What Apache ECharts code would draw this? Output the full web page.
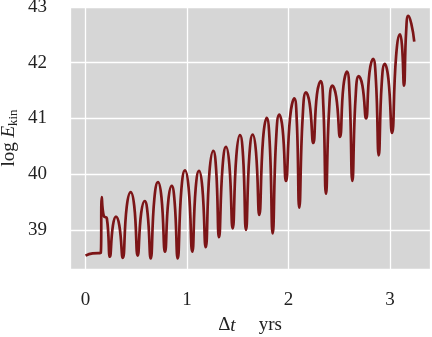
<!DOCTYPE html>
<html>
<head>
<meta charset="utf-8">
<script src="https://cdn.jsdelivr.net/npm/echarts@6/dist/echarts.min.js"></script>
<style>
  html, body { margin: 0; padding: 0; background: #fff; }
  #main { width: 432px; height: 337px; }
</style>
</head>
<body>
<div id="main"></div>
<script>
// Δt in yrs, log E_kin  (peaks, cusps and a few points on the arches)
var tYrs = [
  0.00, 0.07, 0.15, 0.16, 0.18, 0.21, 0.24,
  0.27, 0.30, 0.333, 0.367,
  0.406, 0.445, 0.48, 0.514,
  0.548, 0.583, 0.612, 0.642,
  0.678, 0.714, 0.748, 0.783,
  0.816, 0.849, 0.878, 0.908,
  0.944, 0.980, 1.016, 1.052,
  1.085, 1.118, 1.151, 1.184,
  1.221, 1.259, 1.287, 1.315,
  1.350, 1.384, 1.417, 1.450,
  1.486, 1.522, 1.552, 1.581,
  1.614, 1.647, 1.680, 1.712,
  1.749, 1.785, 1.815, 1.844,
  1.877, 1.909, 1.942, 1.975,
  2.016, 2.057, 2.082, 2.106,
  2.139, 2.172, 2.208, 2.244,
  2.280, 2.317, 2.343, 2.369,
  2.400, 2.432, 2.470, 2.507,
  2.541, 2.576, 2.602, 2.629,
  2.660, 2.692, 2.728, 2.764,
  2.798, 2.833, 2.861, 2.889,
  2.918, 2.948, 2.984, 3.020,
  3.060, 3.099, 3.118, 3.138,
  3.159, 3.180, 3.210, 3.239
];
var logEkin = [
  38.54, 38.58, 38.59, 39.59, 39.25, 39.21, 38.52,
  39.08, 39.24, 39.08, 38.50,
  39.42, 39.68, 39.43, 38.54,
  39.30, 39.52, 39.29, 38.49,
  39.56, 39.86, 39.59, 38.61,
  39.53, 39.79, 39.50, 38.49,
  39.72, 40.07, 39.75, 38.61,
  39.74, 40.06, 39.76, 38.69,
  40.04, 40.42, 40.08, 38.87,
  40.13, 40.49, 40.17, 39.03,
  40.33, 40.70, 40.33, 39.00,
  40.33, 40.71, 40.39, 39.27,
  40.63, 41.01, 40.55, 38.94,
  40.60, 41.07, 40.81, 39.88,
  41.03, 41.36, 40.93, 39.40,
  41.01, 41.47, 41.27, 40.56,
  41.43, 41.67, 41.23, 39.65,
  41.16, 41.59, 41.39, 40.67,
  41.58, 41.84, 41.41, 39.88,
  41.35, 41.76, 41.59, 41.00,
  41.83, 42.07, 41.69, 40.34,
  41.62, 41.98, 41.71, 40.74,
  42.12, 42.51, 42.31, 41.59,
  42.56, 42.84, 42.70, 42.38
];

var xMin = -0.153, xMax = 3.394;
var yMin = 38.3, yMax = 43;

var chart = echarts.init(document.getElementById('main'));

var font = 'Liberation Serif';
function intOnly(v) {
  return Math.abs(v - Math.round(v)) < 1e-6 ? String(Math.round(v)) : '';
}

var points = tYrs.map(function (t, i) { return [t, logEkin[i]]; });

var option = {
  animation: false,
  grid: {
    left: 70, right: 2, top: 7, bottom: 68,
    containLabel: false,
    outerBoundsMode: 'none',
    show: true,
    backgroundColor: '#d6d6d6',
    borderWidth: 0
  },
  xAxis: {
    type: 'value',
    min: xMin,
    max: xMax,
    axisLine: { show: false },
    axisTick: { show: false },
    splitLine: { lineStyle: { color: '#ffffff', width: 1.3 } },
    axisLabel: {
      margin: 22,
      fontFamily: font,
      fontSize: 19,
      color: '#222',
      formatter: intOnly
    },
    name: '{n|Δ}{i|t}{n|yrs}',
    nameLocation: 'middle',
    nameGap: 47,
    nameMoveOverlap: false,
    nameTextStyle: {
      rich: {
        n: { fontFamily: font, fontSize: 19, color: '#222' },
        i: { fontFamily: font, fontSize: 19, fontStyle: 'italic', color: '#222', padding: [0, 23, 0, 0] }
      }
    }
  },
  yAxis: {
    type: 'value',
    min: yMin,
    max: yMax,
    axisLine: { show: false },
    axisTick: { show: false },
    splitLine: { lineStyle: { color: '#ffffff', width: 1.3 } },
    axisLabel: {
      margin: 23,
      fontFamily: font,
      fontSize: 19,
      color: '#222',
      formatter: intOnly
    },
    name: '{n|log }{i|E}{s|kin}',
    nameLocation: 'middle',
    nameGap: 50,
    nameMoveOverlap: false,
    nameTextStyle: {
      rich: {
        n: { fontFamily: font, fontSize: 19, color: '#222' },
        i: { fontFamily: font, fontSize: 19, fontStyle: 'italic', color: '#222' },
        s: { fontFamily: font, fontSize: 13, color: '#222', padding: [9, 0, 0, 0] }
      }
    }
  },
  series: [
    {
      type: 'line',
      data: points,
      showSymbol: false,
      smooth: 0.5,
      lineStyle: { color: '#7c1517', width: 2.7 }
    }
  ]
};

chart.setOption(option);
</script>
</body>
</html>
